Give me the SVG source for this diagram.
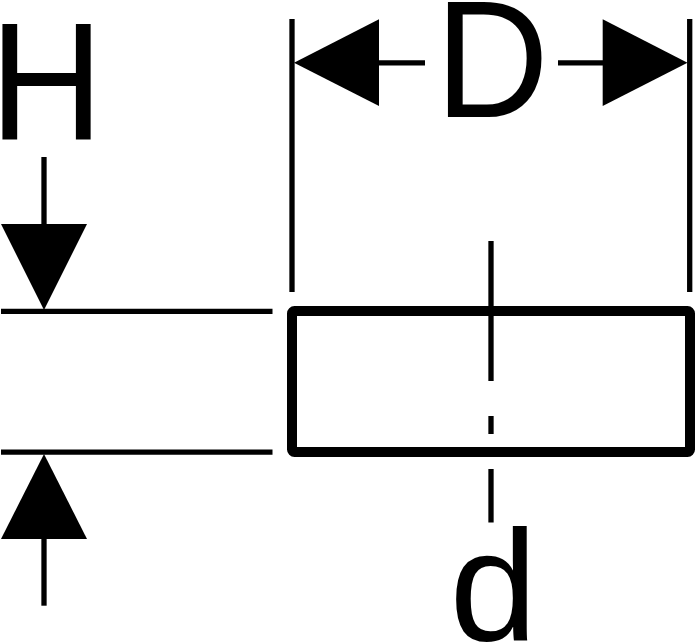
<svg xmlns="http://www.w3.org/2000/svg" width="696" height="643" viewBox="0 0 696 643">
<style>
.l{stroke:#000;stroke-width:5.3;fill:none}
.a{fill:#000}
text{font-family:"Liberation Sans",Arial,sans-serif;fill:#000}
</style>
<rect width="696" height="643" fill="#fff"/>
<g id="connectors">
<line class="l" x1="292" y1="19" x2="292" y2="292"/>
<line class="l" x1="689.7" y1="19" x2="689.7" y2="292"/>
<line class="l" x1="379" y1="62.8" x2="425" y2="62.8"/>
<line class="l" x1="558" y1="62.8" x2="603" y2="62.8"/>
<polygon class="a" points="294,62.7 379,19.3 379,106"/>
<polygon class="a" points="687.5,62.7 602.7,19.3 602.7,106"/>
<line class="l" x1="44" y1="157" x2="44" y2="225"/>
<polygon class="a" points="44,310 1,224 87,224"/>
<line class="l" x1="1" y1="311.3" x2="272.5" y2="311.3"/>
<line class="l" x1="1" y1="452.2" x2="272.5" y2="452.2"/>
<polygon class="a" points="44,454 1,539 87,539"/>
<line class="l" x1="44" y1="539" x2="44" y2="605.7"/>
<line class="l" x1="491" y1="241" x2="491" y2="381"/>
<line class="l" x1="491" y1="416" x2="491" y2="434"/>
<line class="l" x1="491" y1="469" x2="491" y2="522.5"/>
</g>
<g id="body"><rect x="292" y="311" width="398" height="141" rx="2.5" fill="none" stroke="#000" stroke-width="10"/></g>
<g id="label-H"><text transform="translate(-10.5 139) scale(.945 1)" font-size="167">H</text></g>
<g id="label-D"><text transform="translate(435 116.7) scale(.945 1)" font-size="167">D</text></g>
<g id="label-d"><text x="449.5" y="640" font-size="158">d</text></g>
</svg>
